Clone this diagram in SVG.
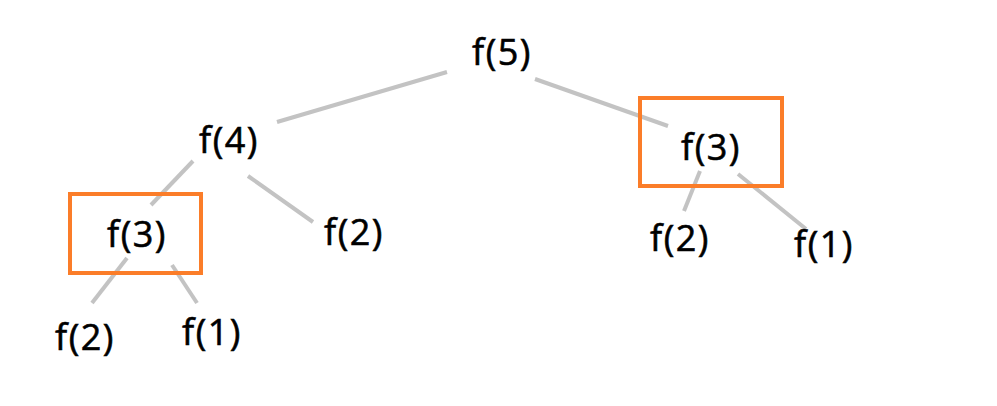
<svg xmlns="http://www.w3.org/2000/svg" width="997" height="406" viewBox="0 0 997 406">
<style>
.t{font-family:"Open Sans","Noto Sans",sans-serif;font-size:36px;fill:#000;stroke:#000;stroke-width:0.6;text-anchor:middle;letter-spacing:1.5px}
.e{stroke:#c3c3c3;stroke-width:4;fill:none}
.b{fill:none;stroke:#fb7d29;stroke-width:4}
</style>
<rect width="997" height="406" fill="#fff"/>
<g id="connectors">
<line class="e" x1="447" y1="72" x2="277" y2="122"/>
<line class="e" x1="535" y1="79" x2="668" y2="126"/>
<line class="e" x1="193" y1="161" x2="151" y2="205"/>
<line class="e" x1="248" y1="176" x2="313" y2="222"/>
<line class="e" x1="127" y1="258" x2="92" y2="303"/>
<line class="e" x1="172" y1="265" x2="197" y2="303"/>
<line class="e" x1="700" y1="171" x2="684" y2="211"/>
<line class="e" x1="738" y1="174" x2="806" y2="229"/>
</g>
<g id="n5"><text class="t" x="502" y="65">f(5)</text></g>
<g id="n4"><text class="t" x="229" y="153">f(4)</text></g>
<g id="n3r"><rect class="b" x="640" y="98" width="142" height="88"/><text class="t" x="711" y="160">f(3)</text></g>
<g id="n2m"><text class="t" x="354" y="245">f(2)</text></g>
<g id="n3l"><rect class="b" x="70" y="194" width="131" height="79"/><text class="t" x="137" y="247">f(3)</text></g>
<g id="n2r"><text class="t" x="680" y="251">f(2)</text></g>
<g id="n1r"><text class="t" x="824" y="257">f(1)</text></g>
<g id="n2l"><text class="t" x="85" y="350">f(2)</text></g>
<g id="n1l"><text class="t" x="212" y="345">f(1)</text></g>
</svg>
